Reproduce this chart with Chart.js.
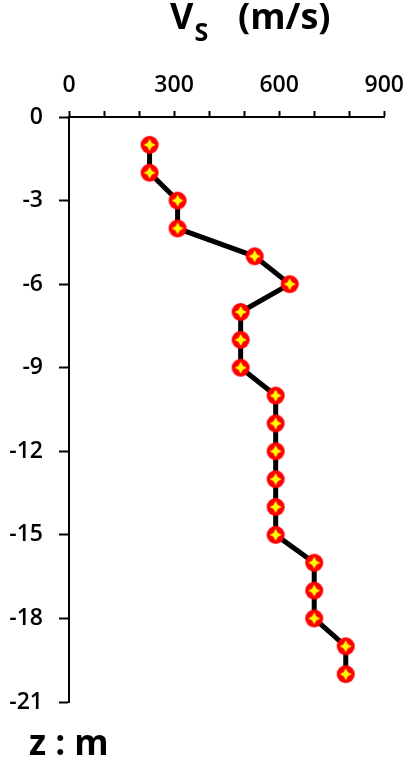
<!DOCTYPE html>
<html>
<head>
<meta charset="utf-8">
<script src="https://cdn.jsdelivr.net/npm/chart.js@4"></script>
<style>
  body { margin: 0; background: #fff; }
  #wrap { position: relative; width: 416px; height: 771px; }
  #vs-chart { position: absolute; left: 0; top: 0; }
  .lbl { position: absolute; font-family: "Open Sans", sans-serif; font-weight: bold; color: #000; white-space: nowrap; line-height: 1; }
</style>
</head>
<body>
<div id="wrap">
  <canvas id="vs-chart" width="416" height="771"></canvas>
  <div class="lbl" style="left:170px; top:-2px; font-size:36px;">V<span style="font-size:25px; position:relative; top:12px; margin-left:1px;">S</span></div>
  <div class="lbl" style="left:238px; top:-2px; font-size:36px;">(m/s)</div>
  <div class="lbl" style="left:29px; top:724px; font-size:35px;">z : m</div>
</div>
<script>
// shear wave velocity profile, one reading per metre of depth
const depths = [-1, -2, -3, -4, -5, -6, -7, -8, -9, -10, -11, -12, -13, -14, -15, -16, -17, -18, -19, -20];
const vsValues = [230, 230, 310, 310, 530, 630, 490, 490, 490, 590, 590, 590, 590, 590, 590, 700, 700, 700, 790, 790];
const xTickLabels = [0, 300, 600, 900];
const yTickLabels = [0, -3, -6, -9, -12, -15, -18, -21];

// red blob with a yellow star in the middle
function makeMarker() {
  const c = document.createElement('canvas');
  c.width = 20; c.height = 20;
  const g = c.getContext('2d');
  g.fillStyle = '#ff0000';
  g.beginPath();
  g.arc(10, 10, 9, 0, Math.PI * 2);
  g.fill();
  g.fillStyle = '#ffff00';
  g.beginPath();
  for (let i = 0; i < 8; i++) {
    const r = i % 2 === 0 ? 6 : 3;
    const a = i * Math.PI / 4 - Math.PI / 2;
    const px = 10 + r * Math.cos(a), py = 10 + r * Math.sin(a);
    if (i === 0) g.moveTo(px, py); else g.lineTo(px, py);
  }
  g.closePath();
  g.fill();
  return c;
}

const points = depths.map((d, i) => ({ x: vsValues[i], y: d }));
const tickFont = { family: '"Open Sans", sans-serif', size: 23, weight: '600' };

const ctx = document.getElementById('vs-chart');
const myChart = new Chart(ctx, {
  type: 'scatter',
  data: {
    datasets: [{
      data: points,
      showLine: true,
      borderColor: '#000',
      borderWidth: 5,
      pointStyle: makeMarker(),
      pointRadius: 9,
      clip: false
    }]
  },
  options: {
    responsive: false,
    animation: false,
    layout: { padding: { top: 0, left: 0, right: 26, bottom: 69 } },
    plugins: {
      legend: { display: false },
      tooltip: { enabled: false }
    },
    scales: {
      x: {
        type: 'linear',
        position: 'top',
        min: 0,
        max: 900,
        afterFit: s => { s.height = 117; },
        ticks: {
          stepSize: 100,
          autoSkip: false,
          maxRotation: 0,
          padding: 12,
          color: '#000',
          font: tickFont,
          callback: v => xTickLabels.includes(v) ? String(v) : ''
        },
        grid: { drawOnChartArea: false, tickLength: 6, tickColor: '#000', tickWidth: 2 },
        border: { color: '#000', width: 2 }
      },
      y: {
        type: 'linear',
        min: -21,
        max: 0,
        afterFit: s => { s.width = 69; },
        ticks: {
          stepSize: 3,
          autoSkip: false,
          padding: 16,
          color: '#000',
          font: tickFont,
          callback: v => yTickLabels.includes(v) ? String(v) : ''
        },
        grid: { drawOnChartArea: false, tickLength: 10, tickColor: '#000', tickWidth: 2 },
        border: { color: '#000', width: 2 }
      }
    }
  }
});
</script>
</body>
</html>
